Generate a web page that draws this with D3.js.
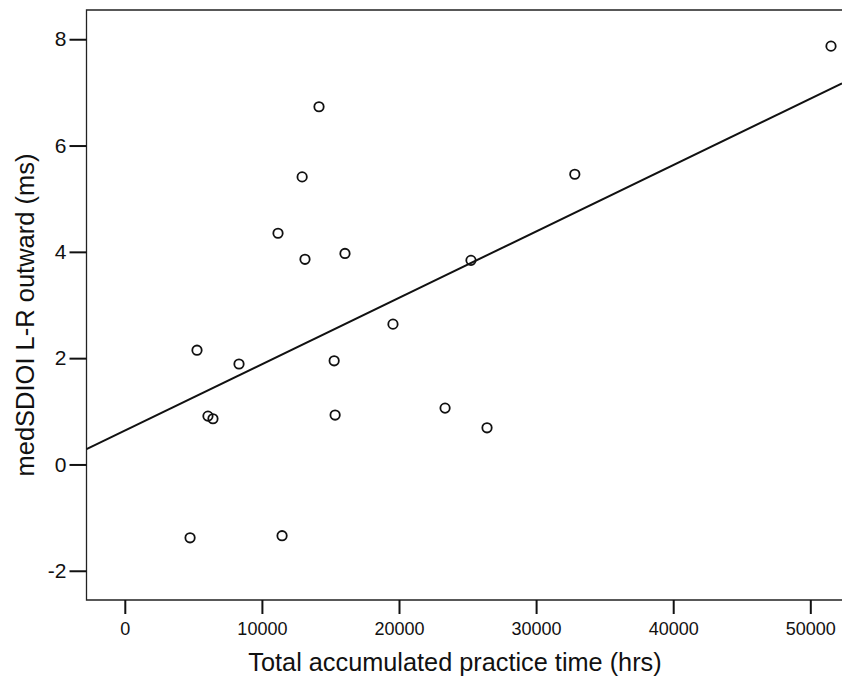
<!DOCTYPE html>
<html>
<head>
<meta charset="utf-8">
<script src="https://cdn.jsdelivr.net/npm/d3@7"></script>
<style>
body { margin: 0; background: #fff; }
svg { display: block; font-family: "Liberation Sans", Arial, sans-serif; }
</style>
</head>
<body>
<script>
// practice hours and medSDIOI values
var practiceHrs = [51510, 14165, 12935, 32823, 11175, 13143, 16060, 25250, 19560, 5266,
	8330, 15270, 6065, 6430, 15340, 23360, 26420, 4760, 11470]
var medSDIOI = [7.87, 6.73, 5.41, 5.46, 4.35, 3.86, 3.97, 3.84, 2.64, 2.15,
	1.89, 1.95, 0.91, 0.86, 0.93, 1.06, 0.69, -1.38, -1.34]

var xTicks = [0, 10000, 20000, 30000, 40000, 50000]
var yTicks = [-2, 0, 2, 4, 6, 8]

// fit line
var fitIntercept = 0.637
var fitSlope = 0.0001249

var width = 842, height = 678
var margin = {top: 10, right: 0, bottom: 78, left: 86.5}

var svg = d3.select("body")
	.append("svg")
	.attr("width", width)
	.attr("height", height);

var x = d3.scaleLinear()
	.domain([-2794, 52312])
	.range([margin.left, width - margin.right]);

var y = d3.scaleLinear()
	.domain([-2.55, 8.55])
	.range([height - margin.bottom, margin.top]);

var plotBottom = height - margin.bottom

// frame: top, left and bottom (right side is cut off)
svg.append("path")
	.attr("d", "M" + width + "," + margin.top + "H" + margin.left + "V" + plotBottom + "H" + width)
	.attr("fill", "none")
	.attr("stroke", "#222")
	.attr("stroke-width", 1.3);

var plain = function(d) { return String(d) }

var xAxis = svg.append("g")
	.attr("transform", "translate(0," + plotBottom + ")")
	.call(d3.axisBottom(x).tickValues(xTicks).tickSize(14).tickPadding(8).tickFormat(plain));

var yAxis = svg.append("g")
	.attr("transform", "translate(" + margin.left + ",0)")
	.call(d3.axisLeft(y).tickValues(yTicks).tickSize(17).tickPadding(3).tickFormat(plain));

[xAxis, yAxis].forEach(function(g) {
	g.select(".domain").remove()
	g.selectAll(".tick line").attr("stroke", "#111").attr("stroke-width", 2)
	g.selectAll(".tick text").attr("fill", "#111").attr("font-family", "Liberation Sans, Arial, sans-serif")
})
xAxis.selectAll(".tick text").attr("font-size", 18)
yAxis.selectAll(".tick text").attr("font-size", 21)

// regression line
var xd = x.domain()
svg.append("line")
	.attr("x1", x(xd[0]))
	.attr("y1", y(fitIntercept + fitSlope * xd[0]))
	.attr("x2", x(xd[1]))
	.attr("y2", y(fitIntercept + fitSlope * xd[1]))
	.attr("stroke", "#111")
	.attr("stroke-width", 2);

svg.selectAll(".pt")
	.data(practiceHrs)
	.enter()
	.append("circle")
	.attr("class", "pt")
	.attr("cx", function(d) { return x(d) })
	.attr("cy", function(d, i) { return y(medSDIOI[i]) })
	.attr("r", 4.7)
	.attr("fill", "none")
	.attr("stroke", "#111")
	.attr("stroke-width", 1.8);

svg.append("text")
	.attr("x", 455)
	.attr("y", 671)
	.attr("text-anchor", "middle")
	.attr("font-size", 25.3)
	.attr("fill", "#111")
	.text("Total accumulated practice time (hrs)");

svg.append("text")
	.attr("transform", "translate(34,315) rotate(-90)")
	.attr("text-anchor", "middle")
	.attr("font-size", 25.5)
	.attr("fill", "#111")
	.text("medSDIOI L-R outward (ms)");
</script>
</body>
</html>
